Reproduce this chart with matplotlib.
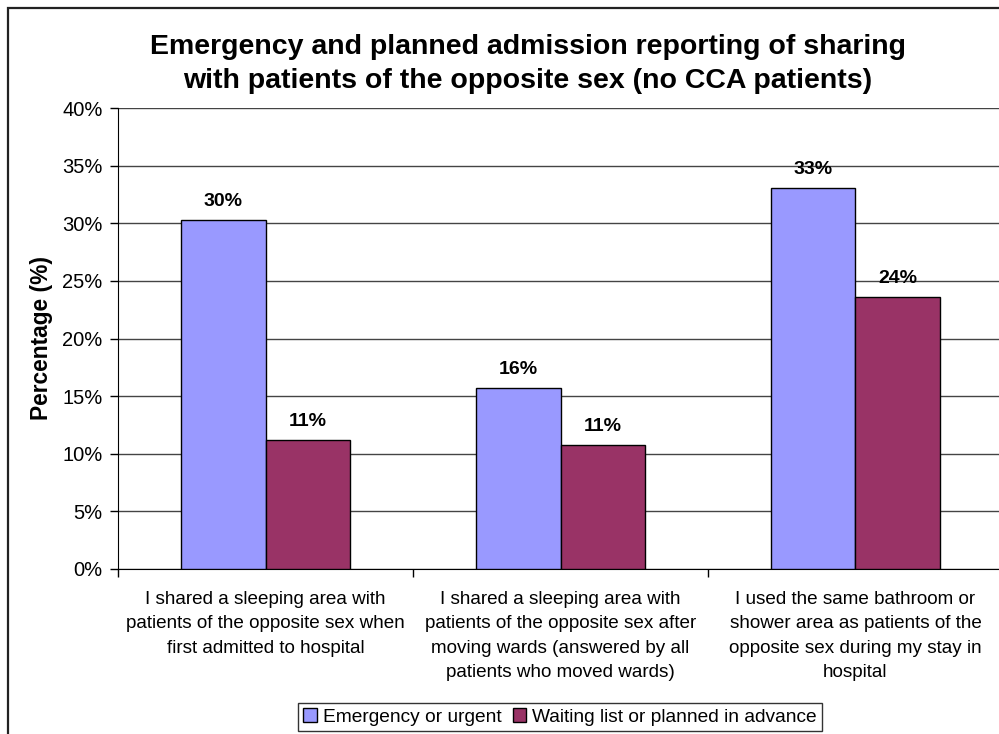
import matplotlib
matplotlib.use("Agg")
import matplotlib.pyplot as plt
from matplotlib.patches import Rectangle, Patch
import numpy as np

plt.rcParams['font.family'] = ['Liberation Sans', 'DejaVu Sans']

categories = [
    "I shared a sleeping area with\npatients of the opposite sex when\nfirst admitted to hospital",
    "I shared a sleeping area with\npatients of the opposite sex after\nmoving wards (answered by all\npatients who moved wards)",
    "I used the same bathroom or\nshower area as patients of the\nopposite sex during my stay in\nhospital",
]
series_names = ["Emergency or urgent", "Waiting list or planned in advance"]
emergency = [30.3, 15.7, 33.1]
planned = [11.2, 10.8, 23.6]
yticks = [0, 5, 10, 15, 20, 25, 30, 35, 40]

colors = ["#9999FF", "#993366"]

fig = plt.figure(figsize=(9.99, 7.34), dpi=100)
# outer chart border
fig.patches.append(Rectangle((8/999, -0.05), 1.05, 1 - 8/734 + 0.05, transform=fig.transFigure,
                             fill=False, edgecolor="#222222", linewidth=1.6))

ax = fig.add_axes([118/999, 1 - 569/734, 885/999, (569 - 108)/734])
x = np.arange(len(categories))
w = 0.288
b1 = ax.bar(x - w/2, emergency, w, color=colors[0], edgecolor="black", linewidth=1, zorder=3)
b2 = ax.bar(x + w/2, planned, w, color=colors[1], edgecolor="black", linewidth=1, zorder=3)

for bars, vals in ((b1, emergency), (b2, planned)):
    for rect, v in zip(bars, vals):
        ax.annotate(f"{round(v):.0f}%", (rect.get_x() + rect.get_width()/2, v),
                    xytext=(0, 7), textcoords="offset points", ha="center", va="bottom",
                    fontsize=14, fontweight="bold")

ax.set_xlim(-0.5, 2.5)
ax.set_ylim(0, 40)
ax.set_yticks(yticks)
ax.set_yticklabels([f"{t}%" for t in yticks], fontsize=14.5)
ax.yaxis.grid(True, color="#444444", linewidth=1, zorder=0)
ax.set_axisbelow(True)
for s in ("top", "right"):
    ax.spines[s].set_visible(False)
ax.spines["left"].set_color("black")
ax.spines["bottom"].set_color("black")
ax.tick_params(axis="y", direction="out", length=6, width=1, pad=5)

ax.set_xticks(x)
ax.set_xticklabels(categories, fontsize=13.6, linespacing=1.55, va="top")
ax.tick_params(axis="x", which="major", length=0, pad=16)
ax.set_xticks([-0.5, 0.5, 1.5], minor=True)
ax.tick_params(axis="x", which="minor", direction="out", length=6, width=1)

ax.set_ylabel("Percentage (%)", fontsize=16.4, fontweight="bold", labelpad=7)

fig.text(528/999, 1 - 64/734,
         "Emergency and planned admission reporting of sharing\nwith patients of the opposite sex (no CCA patients)",
         ha="center", va="center", fontsize=20.5, fontweight="bold", linespacing=1.45)

handles = [Patch(facecolor=colors[0], edgecolor="black"), Patch(facecolor=colors[1], edgecolor="black")]
leg = fig.legend(handles, series_names, loc="center", bbox_to_anchor=(560/999, 1 - 717/734),
                 ncol=2, fontsize=13.8, frameon=True, fancybox=False, handlelength=0.7,
                 handleheight=0.7, handletextpad=0.3, columnspacing=0.6, borderpad=0.3)
leg.get_frame().set_edgecolor("black")
leg.get_frame().set_linewidth(1)

fig.savefig("out.png", dpi=100)
